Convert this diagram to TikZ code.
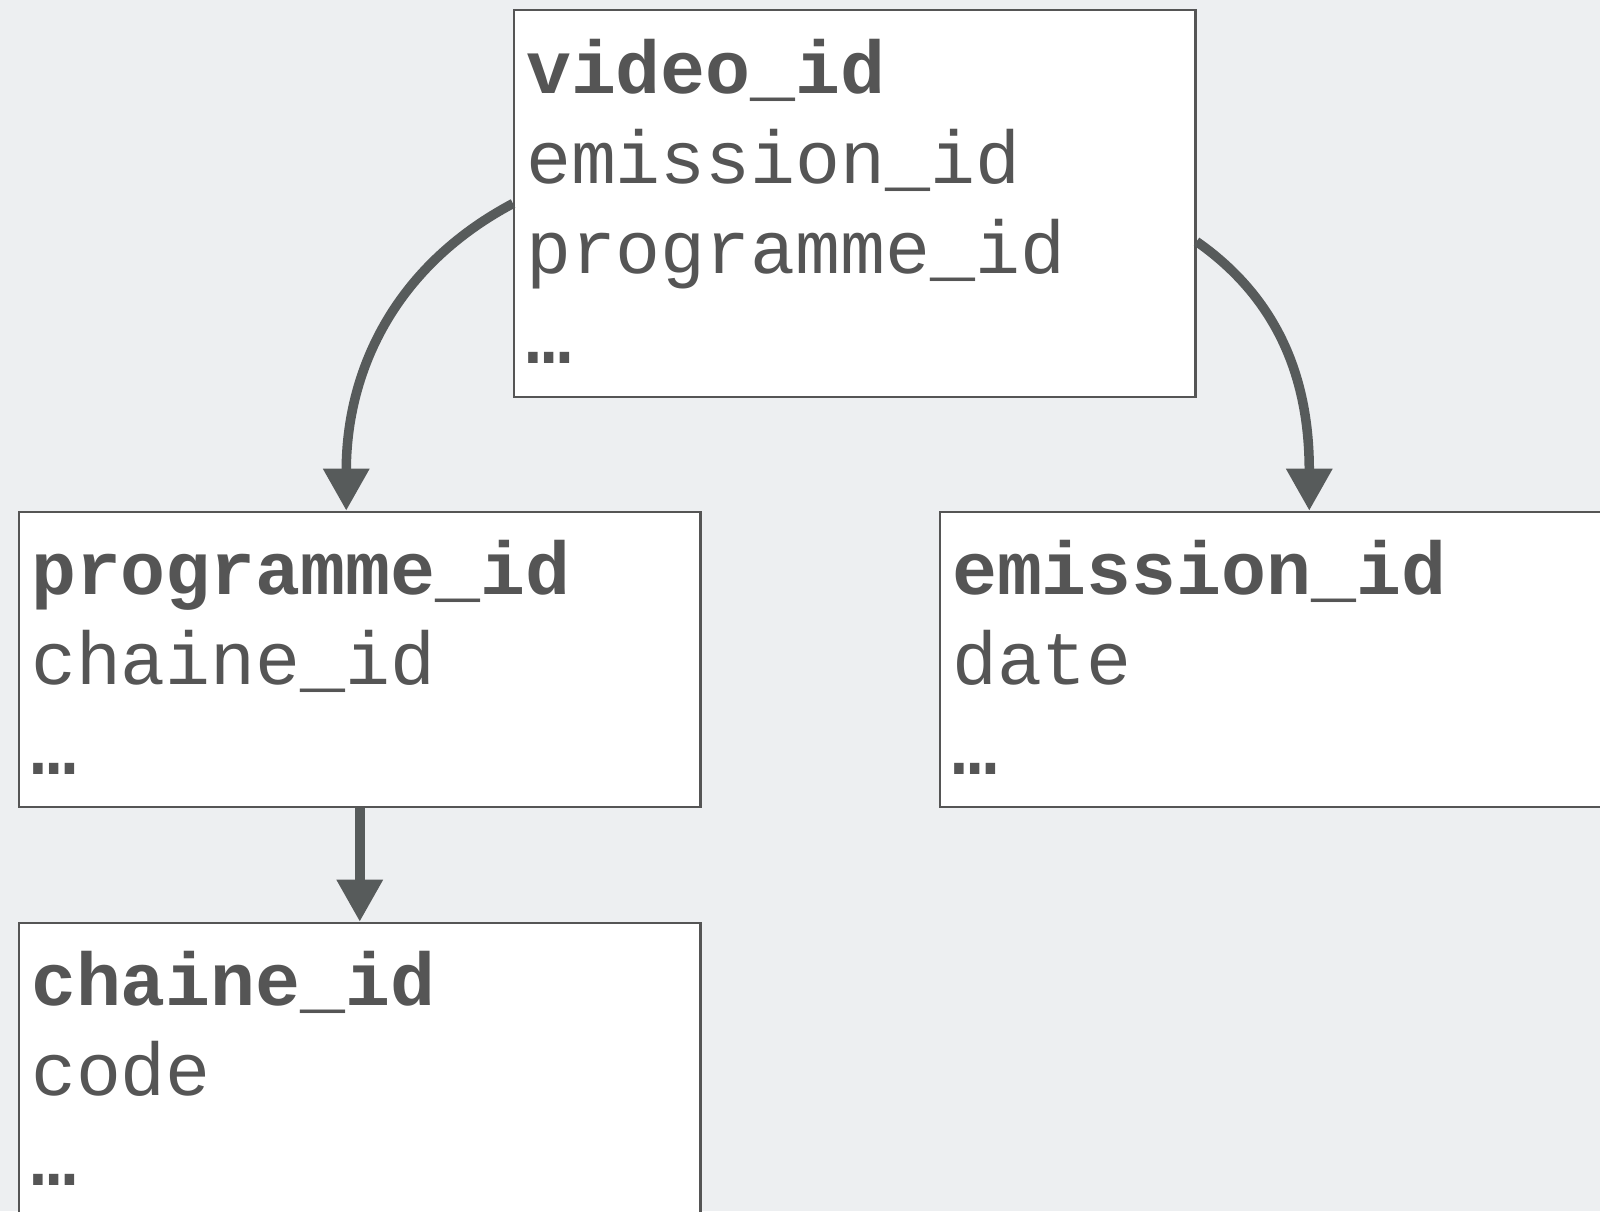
\documentclass[tikz,border=0pt]{standalone}
\usepackage{fontspec}
\setmonofont{Liberation Mono}
\usetikzlibrary{arrows.meta}
\definecolor{bgcol}{RGB}{237,239,241}
\definecolor{inkcol}{RGB}{85,85,85}
\definecolor{linkcol}{RGB}{87,91,91}
\newcommand{\more}{\textbf{…}}

\begin{document}
\begin{tikzpicture}[x=0.01cm,y=-0.01cm,
	>={Triangle[length=0.42cm,width=0.44cm]},
	tbl/.style={draw=inkcol,line width=0.6pt,fill=white,anchor=north west,
		inner xsep=0.12cm,inner ysep=0pt,text width=6.57cm,align=left,
		text height=0.83cm,text depth=2.12cm,text=inkcol,
		font=\ttfamily\fontsize{21.3}{25.6}\selectfont},
	link/.style={draw=linkcol,line width=2.7pt}]

	\fill[bgcol] (0,0) rectangle (1600,1211);
	\useasboundingbox (0,0) rectangle (1600,1211);
	\clip (0,0) rectangle (1600,1211);

	\node 	(video)		at	(513,9.3)	[tbl,text depth=3.03cm]{\textbf{video\_id}\\emission\_id\\programme\_id\\\more};

	\node 	(programme)	at	(18,510.7)	[tbl]{\textbf{programme\_id}\\chaine\_id\\\more};

	\node 	(emission)	at	(939,510.7)	[tbl]{\textbf{emission\_id}\\date\\\more};

	\node 	(chaine)	at	(18,921.7)	[tbl]{\textbf{chaine\_id}\\code\\\more}
		edge[<-,link]		(programme);

	\draw[->,link] (video.west) 	to[out=208,in=90] 	([xshift=-0.135cm]programme.north);
	\draw[->,link] ([yshift=-0.38cm]video.east) 	to[out=-35,in=90] 	([xshift=0.285cm]emission.north);

\end{tikzpicture}
\end{document}
